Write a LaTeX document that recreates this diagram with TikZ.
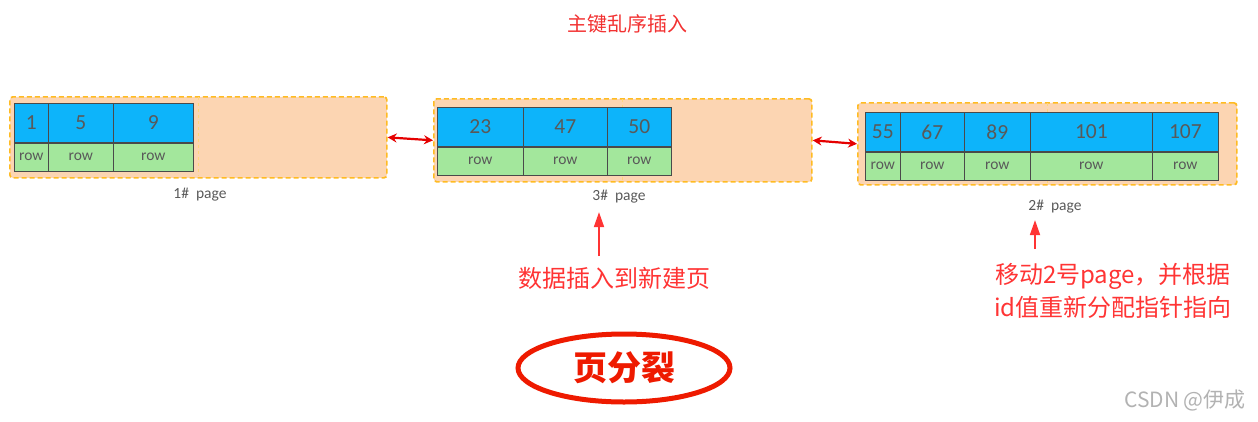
\documentclass[tikz,border=0pt]{standalone}
\usepackage{fontspec}
\setmainfont{Carlito}
\newfontfamily\cjk{Noto Sans CJK SC}
\usetikzlibrary{shapes.geometric,arrows.meta}
\definecolor{keyblue}{HTML}{0DB4FA}
\definecolor{rowgreen}{HTML}{A3E79C}
\definecolor{peach}{HTML}{FCD5B2}
\definecolor{dashor}{HTML}{FFBB22}
\definecolor{celltxt}{HTML}{595959}
\definecolor{cellline}{HTML}{4A4A4A}
\definecolor{redtxt}{HTML}{FF3434}
\definecolor{ellred}{HTML}{EE1A00}
\tikzset{
  pagebox/.style={draw=dashor, fill=peach, dash pattern=on 5pt off 3pt, line width=1.7pt, rounded corners=3pt, anchor=north west, inner sep=0pt},
  keyc/.style={draw=cellline, fill=keyblue, line width=0.7pt, anchor=north west, minimum height=39pt, inner sep=0pt, text=celltxt, font=\fontsize{21.5}{21.5}\selectfont},
  rowc/.style={draw=cellline, fill=rowgreen, line width=0.7pt, anchor=north west, minimum height=28pt, inner sep=0pt, text=celltxt, font=\fontsize{15.5}{15.5}\selectfont},
  pglabel/.style={text=celltxt, font=\fontsize{15.5}{15.5}\selectfont},
  faint/.style={draw=dashor!60, dashed, line width=0.5pt},
  redtext/.style={text=redtxt, font=\cjk\fontsize{24}{33}\selectfont, align=center},
  linkarrow/.style={draw=red!90!black, line width=2.2pt, {Stealth[length=9pt,width=9pt]}-{Stealth[length=9pt,width=9pt]}},
  uparrow/.style={draw=redtxt, line width=1.8pt, -{Triangle[length=15pt,width=10pt]}}
}
\newcommand{\pgcell}[6]{%
  \node[keyc, minimum width=#4] (#1k) at (#2,#3) {#5};
  \node[rowc, minimum width=#4] (#1r) at (#1k.south west) {#6};}
\begin{document}
\begin{tikzpicture}[x=1pt,y=-1pt]
\useasboundingbox (0,0) rectangle (1258,421);
% title
\node[text=redtxt!95!black, font=\cjk\fontsize{20}{20}\selectfont] (title) at (627,24) {主键乱序插入};
% page boxes
\node[pagebox, minimum width=377pt, minimum height=81pt] (pg1) at (9,96) {};
\node[pagebox, minimum width=378pt, minimum height=83pt] (pg3) at (433,98) {};
\node[pagebox, minimum width=379pt, minimum height=82pt] (pg2) at (857,102) {};
\draw[faint] (198,97) -- (198,176);
\draw[faint] (622,99) -- (622,180);
\draw[faint] (1047,103) -- (1047,183);
% page 1
\pgcell{a1}{14}{103}{34}{1}{row}
\pgcell{a2}{48}{103}{65}{5}{row}
\pgcell{a3}{113}{103}{80}{9}{row}
% page 3
\pgcell{b1}{437}{107}{86}{23}{row}
\pgcell{b2}{523}{107}{84}{47}{row}
\pgcell{b3}{607}{107}{64}{50}{row}
% page 2
\pgcell{c1}{865}{112}{35}{55}{row}
\pgcell{c2}{900}{112}{64}{67}{row}
\pgcell{c3}{964}{112}{66}{89}{row}
\pgcell{c4}{1030}{112}{122}{101}{row}
\pgcell{c5}{1152}{112}{66}{107}{row}
% labels
\node[pglabel] (l1) at (200,195) {1\#\ \ page};
\node[pglabel] (l3) at (619,197) {3\#\ \ page};
\node[pglabel] (l2) at (1055,207) {2\#\ \ page};
% link arrows
\draw[linkarrow] (pg1.east) -- (pg3.west);
\draw[linkarrow] (pg3.east) -- (pg2.west);
% notes
\node[redtext] (n1) at (614,278) {数据插入到新建页};
\node[redtext] (n2) at (1113,291) {移动2号page，并根据\\id值重新分配指针指向};
\coordinate (u1) at (599,256);
\coordinate (u2) at (1035,249);
\draw[uparrow] (u1) -- (u1 |- l3.south) [shorten >=5pt];
\draw[uparrow] (u2) -- (u2 |- l2.south) [shorten >=3pt];
% ellipse
\node[ellipse, draw=ellred, line width=5pt, minimum width=212pt, minimum height=68pt, text=ellred, font=\cjk\bfseries\fontsize{34}{34}\selectfont] (split) at (624,368) {页分裂};
% watermark
\node[text=black!30, font=\cjk\fontsize{21}{21}\selectfont] (wm) at (1185,400) {CSDN @伊成};
\end{tikzpicture}
\end{document}
